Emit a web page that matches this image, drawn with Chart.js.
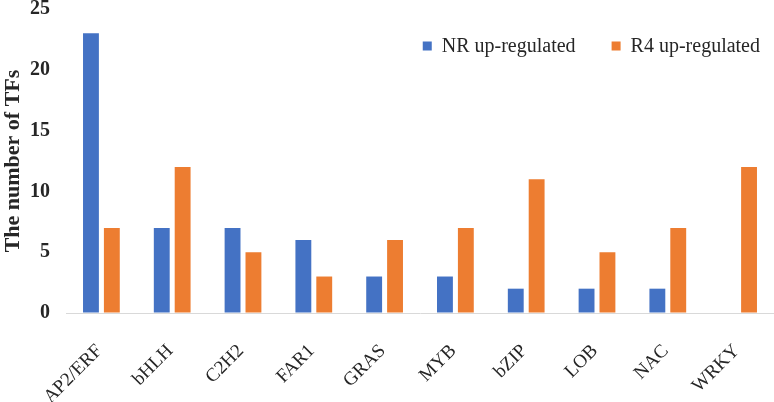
<!DOCTYPE html>
<html>
<head>
<meta charset="utf-8">
<script src="https://cdn.jsdelivr.net/npm/chart.js@4/dist/chart.umd.min.js"></script>
<style>
  html, body { margin: 0; padding: 0; background: #ffffff; }
  #wrap { width: 774px; height: 402px; position: relative; }
</style>
</head>
<body>
<div id="wrap"><canvas id="c"></canvas></div>
<script>
const categories = ['AP2/ERF', 'bHLH', 'C2H2', 'FAR1', 'GRAS', 'MYB', 'bZIP', 'LOB', 'NAC', 'WRKY'];
const nrUp = [23, 7, 7, 6, 3, 3, 2, 2, 2, 0];
const r4Up = [7, 12, 5, 3, 6, 7, 11, 5, 7, 12];
const seriesNames = ['NR up-regulated', 'R4 up-regulated'];
const yTicks = [0, 5, 10, 15, 20, 25];

const BLUE = '#4472C4';
const ORANGE = '#ED7D31';
const TEXT = '#262626';
const SERIF = "'Liberation Serif', 'Times New Roman', serif";

const legendPlugin = {
  id: 'insideLegend',
  afterDraw(chart) {
    const ctx = chart.ctx;
    const area = chart.chartArea;
    ctx.save();
    ctx.font = '20px ' + SERIF;
    ctx.textBaseline = 'middle';
    ctx.textAlign = 'left';
    const box = 9, gapBox = 10, gapItem = 36;
    const y = 46;
    const items = chart.data.datasets.map(d => ({ label: d.label, color: d.backgroundColor }));
    let total = 0;
    items.forEach((it, i) => {
      it.w = ctx.measureText(it.label).width;
      total += box + gapBox + it.w + (i < items.length - 1 ? gapItem : 0);
    });
    let x = area.right - 14 - total;
    items.forEach(it => {
      ctx.fillStyle = it.color;
      ctx.fillRect(x, y - box / 2, box, box);
      x += box + gapBox;
      ctx.fillStyle = TEXT;
      ctx.fillText(it.label, x, y + 1);
      x += it.w + gapItem;
    });
    ctx.restore();
  }
};

new Chart(document.getElementById('c'), {
  type: 'bar',
  data: {
    labels: categories,
    datasets: [
      { label: seriesNames[0], data: nrUp, backgroundColor: BLUE },
      { label: seriesNames[1], data: r4Up, backgroundColor: ORANGE }
    ]
  },
  options: {
    responsive: true,
    maintainAspectRatio: false,
    animation: false,
    layout: { padding: 0 },
    datasets: { bar: { categoryPercentage: 0.59, barPercentage: 0.76 } },
    plugins: {
      legend: { display: false },
      tooltip: { enabled: false }
    },
    scales: {
      x: {
        grid: { display: false, drawTicks: false },
        border: { display: true, color: '#d9d9d9', width: 1 },
        ticks: {
          color: TEXT,
          font: { family: SERIF, size: 19 },
          minRotation: 45,
          maxRotation: 45,
          padding: 27,
          labelOffset: -2,
          autoSkip: false
        },
        afterFit(axis) { axis.height = 89; axis.paddingLeft = 0; axis.paddingRight = 0; }
      },
      y: {
        min: 0,
        max: 25,
        afterBuildTicks(axis) { axis.ticks = yTicks.map(v => ({ value: v })); },
        grid: { display: true, drawOnChartArea: false, drawTicks: true, tickLength: 16, color: 'rgba(0,0,0,0)' },
        border: { display: false },
        ticks: {
          color: TEXT,
          font: { family: SERIF, size: 20, weight: 'bold' },
          padding: 0
        },
        title: {
          display: true,
          text: 'The number of TFs',
          color: TEXT,
          font: { family: SERIF, size: 22, weight: 'bold' },
          padding: { top: 0, bottom: 0 }
        },
        afterFit(axis) { axis.width = 66; axis.paddingTop = 9; axis.paddingBottom = 0; }
      }
    }
  },
  plugins: [legendPlugin]
});
</script>
</body>
</html>
